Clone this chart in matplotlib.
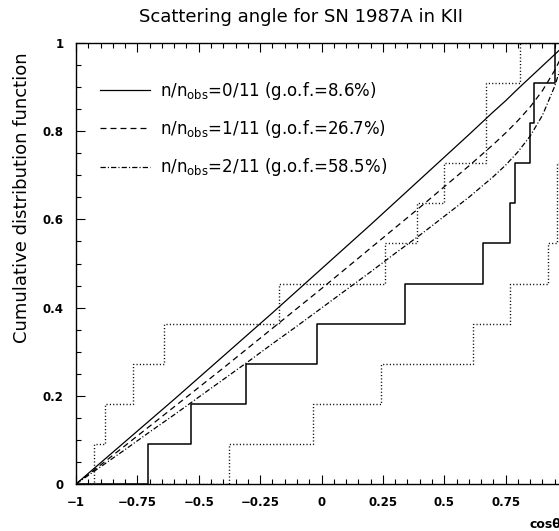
import numpy as np
import matplotlib
matplotlib.use("Agg")
import matplotlib.pyplot as plt
from matplotlib.ticker import MultipleLocator

plt.rcParams['font.family'] = ['DejaVu Sans']
plt.rcParams['lines.scale_dashes'] = False

# measured cos(theta) of the 11 KII events, and with angles shifted by -/+ 1 sigma
cos_data = [-0.707, -0.530, -0.309, -0.017, 0.342, 0.656, 0.766, 0.788, 0.848, 0.866, 0.951]
cos_upper = [-0.927, -0.883, -0.766, -0.643, -0.174, 0.259, 0.391, 0.500, 0.669, 0.669, 0.809]
cos_lower = [-0.375, -0.035, 0.242, 0.616, 0.766, 0.921, 0.961, 0.961, 0.974, 0.978, 1.000]

# expected cumulative distributions
x_curve = [-1.0, -0.9, -0.8, -0.7, -0.6, -0.5, -0.4, -0.3, -0.2, -0.1, 0.0, 0.1, 0.2,
           0.3, 0.4, 0.5, 0.6, 0.7, 0.75, 0.8, 0.85, 0.9, 0.95, 0.975, 1.0]
cdf_0 = [0.0, 0.048, 0.096, 0.144, 0.192, 0.241, 0.290, 0.339, 0.388, 0.438, 0.488, 0.538, 0.588,
         0.639, 0.690, 0.741, 0.792, 0.844, 0.869, 0.896, 0.922, 0.948, 0.974, 0.987, 1.0]
cdf_1 = [0.0, 0.043, 0.087, 0.131, 0.175, 0.219, 0.263, 0.308, 0.353, 0.398, 0.443, 0.489, 0.535,
         0.581, 0.627, 0.674, 0.721, 0.770, 0.796, 0.824, 0.855, 0.892, 0.938, 0.966, 1.0]
cdf_2 = [0.0, 0.039, 0.078, 0.118, 0.157, 0.197, 0.237, 0.277, 0.318, 0.358, 0.399, 0.440, 0.481,
         0.523, 0.564, 0.607, 0.650, 0.697, 0.723, 0.753, 0.789, 0.836, 0.902, 0.946, 1.0]

legend_labels = [r'n/n$_{\mathregular{obs}}$=0/11 (g.o.f.=8.6%)',
                 r'n/n$_{\mathregular{obs}}$=1/11 (g.o.f.=26.7%)',
                 r'n/n$_{\mathregular{obs}}$=2/11 (g.o.f.=58.5%)']

xtick_vals = [-1, -0.75, -0.5, -0.25, 0, 0.25, 0.5, 0.75]
xtick_labels = ['\u22121', '\u22120.75', '\u22120.5', '\u22120.25', '0', '0.25', '0.5', '0.75']
ytick_vals = [0, 0.2, 0.4, 0.6, 0.8, 1]
ytick_labels = ['0', '0.2', '0.4', '0.6', '0.8', '1']


def step_xy(vals):
    v = sorted(vals)
    n = len(v)
    xs = [-1.0] + v + [1.0]
    ys = [0.0] + [(i + 1) / n for i in range(n)] + [1.0]
    return xs, ys


W, H = 559, 531
fig = plt.figure(figsize=(W / 100, H / 100), dpi=100)
x0, x1, y0, y1 = 76, 567, 484, 43
ax = fig.add_axes([x0 / W, 1 - y0 / H, (x1 - x0) / W, (y0 - y1) / H])

lw = 0.9
dotted = (0, (0.8, 1.6))
dashed = (0, (4.3, 2.9))
dashdot = (0, (3.8, 1.5, 0.8, 1.5))

l0, = ax.plot(x_curve, cdf_0, color='black', lw=lw, ls='-')
l1, = ax.plot(x_curve, cdf_1, color='black', lw=lw, ls=dashed)
l2, = ax.plot(x_curve, cdf_2, color='black', lw=lw, ls=dashdot)

xs, ys = step_xy(cos_data)
ax.plot(xs, ys, drawstyle='steps-post', color='black', lw=1.1)
xs, ys = step_xy(cos_upper)
ax.plot(xs, ys, drawstyle='steps-post', color='black', lw=1.0, ls=dotted)
xs, ys = step_xy(cos_lower)
ax.plot(xs, ys, drawstyle='steps-post', color='black', lw=1.0, ls=dotted)

ax.set_xlim(-1, 1)
ax.set_ylim(0, 1)
ax.set_xticks(xtick_vals)
ax.set_xticklabels(xtick_labels)
ax.xaxis.set_minor_locator(MultipleLocator(0.05))
ax.set_yticks(ytick_vals)
ax.set_yticklabels(ytick_labels)
ax.yaxis.set_minor_locator(MultipleLocator(0.05))
ax.tick_params(which='both', direction='in', top=True, right=False, width=0.8)
ax.tick_params(which='major', length=6.5)
ax.tick_params(which='minor', length=3.5)
ax.tick_params(axis='x', which='major', pad=9, labelsize=8.5)
ax.tick_params(axis='y', which='major', pad=9, labelsize=8.5)
for lab in ax.get_xticklabels() + ax.get_yticklabels():
    lab.set_fontweight('bold')
for sp in ax.spines.values():
    sp.set_linewidth(1.0)

leg = ax.legend([l0, l1, l2], legend_labels, loc='upper left',
                bbox_to_anchor=((100 - x0) / (x1 - x0), (y0 - 80) / (y0 - y1)),
                frameon=False, fontsize=12, handlelength=3.0, handletextpad=0.6,
                labelspacing=0.97, borderpad=0, borderaxespad=0)

fig.text(301 / W, 1 - 17 / H, 'Scattering angle for SN 1987A in KII',
         ha='center', va='center', fontsize=13)
fig.text(22 / W, 1 - 52 / H, 'Cumulative distribution function', rotation=90,
         ha='center', va='top', fontsize=13)
fig.text(530 / W, 1 - 525 / H, 'cos\u03b8', ha='left', va='center',
         fontsize=9, fontweight='bold')

fig.savefig('out.png', dpi=100)
